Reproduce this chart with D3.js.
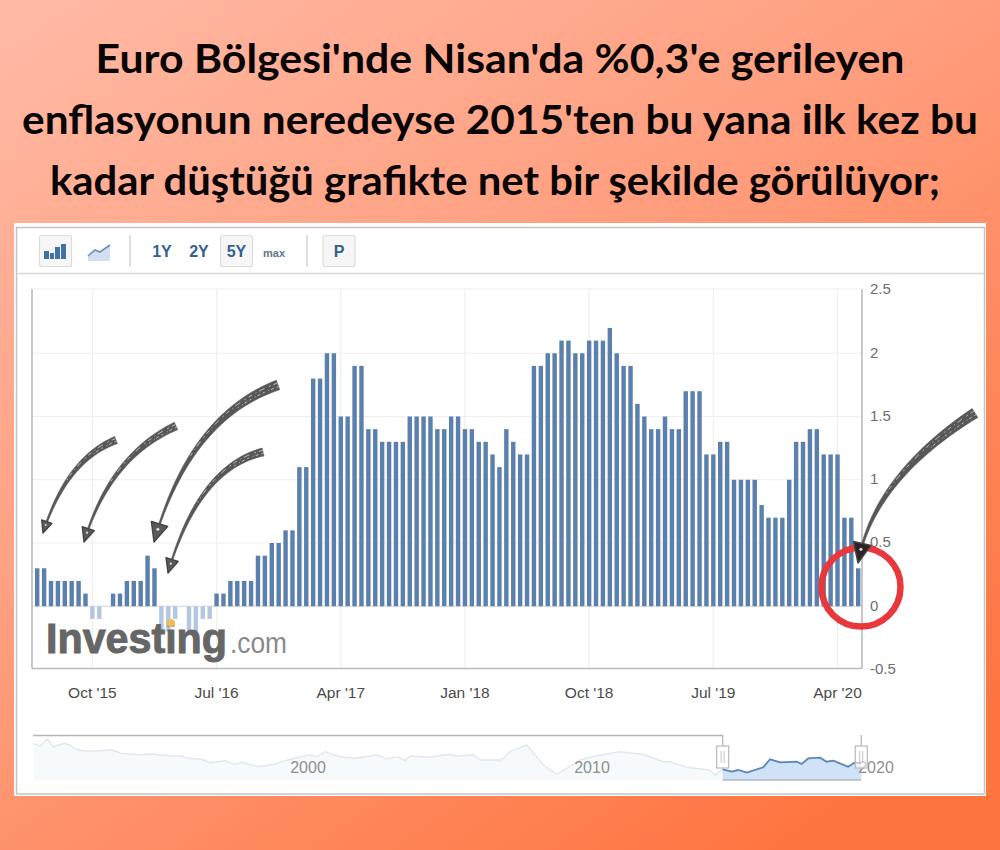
<!DOCTYPE html>
<html>
<head>
<meta charset="utf-8">
<script src="https://cdnjs.cloudflare.com/ajax/libs/d3/7.8.5/d3.min.js"></script>
<style>
html, body { margin: 0; padding: 0; background: #ff8a60; }
svg { display: block; }
</style>
</head>
<body>
<svg id="chart" width="1000" height="850"></svg>
<script>
var titleLines = [
    "Euro Bölgesi'nde Nisan'da %0,3'e gerileyen",
    "enflasyonun neredeyse 2015'ten bu yana ilk kez bu",
    "kadar düştüğü grafikte net bir şekilde görülüyor;"
];

// two releases per month (flash + final), oldest first
var barValues = [
    0.3, 0.3, 0.2, 0.2, 0.2, 0.2, 0.2, 0.1, -0.1, -0.1,
    0, 0.1, 0.1, 0.2, 0.2, 0.2, 0.4, 0.3, -0.2, -0.2,
    -0.1, 0, -0.2, -0.2, -0.1, -0.1, 0.1, 0.1, 0.2, 0.2,
    0.2, 0.2, 0.4, 0.4, 0.5, 0.5, 0.6, 0.6, 1.1, 1.1,
    1.8, 1.8, 2, 2, 1.5, 1.5, 1.9, 1.9, 1.4, 1.4,
    1.3, 1.3, 1.3, 1.3, 1.5, 1.5, 1.5, 1.5, 1.4, 1.4,
    1.5, 1.5, 1.4, 1.4, 1.3, 1.3, 1.2, 1.1, 1.4, 1.3,
    1.2, 1.2, 1.9, 1.9, 2, 2, 2.1, 2.1, 2, 2,
    2.1, 2.1, 2.1, 2.2, 2, 1.9, 1.9, 1.6, 1.5, 1.4,
    1.4, 1.5, 1.4, 1.4, 1.7, 1.7, 1.7, 1.2, 1.2, 1.3,
    1.3, 1, 1, 1, 1, 0.8, 0.7, 0.7, 0.7, 1,
    1.3, 1.3, 1.4, 1.4, 1.2, 1.2, 1.2, 0.7, 0.7, 0.3
];

var xTickIndex = [8, 26, 44, 62, 80, 98, 116];
var xTickLabels = ["Oct '15", "Jul '16", "Apr '17", "Jan '18", "Oct '18", "Jul '19", "Apr '20"];
var yTickValues = [-0.5, 0, 0.5, 1, 1.5, 2, 2.5];

var navYears = [
    1990.33, 1990.56, 1990.83, 1991.03, 1991.21, 1991.44, 1991.62, 1991.8, 1992.15, 1992.62,
    1993.09, 1993.44, 1994.02, 1994.5, 1995.08, 1995.55, 1995.79, 1996.26, 1996.55, 1997.08,
    1997.43, 1997.67, 1998.25, 1998.84, 1999.19, 1999.54, 2000.01, 2000.31, 2000.6, 2000.89,
    2001.24, 2001.65, 2002.42, 2002.77, 2003.12, 2003.42, 2003.59, 2004.3, 2004.94, 2005.24,
    2005.82, 2006.06, 2006.82, 2007.11, 2007.7, 2008.05, 2008.29, 2008.76, 2009.11, 2009.58,
    2010.17, 2010.99, 2011.81, 2012.51, 2012.75, 2013.33, 2014.15, 2014.33, 2014.6, 2014.92,
    2015.15, 2015.45, 2016.03, 2016.27, 2016.62, 2017.21, 2017.38, 2017.62, 2018.03, 2018.26,
    2018.5, 2019.02, 2019.26, 2019.48
];
var navValues = [
    4.47, 4.03, 5.16, 3.92, 4.19, 4.47, 4.19, 3.5, 3.23, 3.27,
    3.39, 2.85, 2.63, 2.74, 2.47, 2.42, 2.05, 1.89, 1.34, 1.66,
    1.08, 1.4, 0.69, 1.13, 1.66, 2.05, 2.58, 2.31, 3.11, 2.58,
    2.21, 2.05, 2.58, 1.94, 2.31, 1.66, 2.42, 2.21, 2.69, 2.42,
    2.58, 1.77, 1.77, 3.11, 4.19, 2.31, 0.97, -0.53, 0.44, 1.77,
    2.47, 3.11, 2.69, 1.5, 1.5, 0.6, 0.16, -0.65, 0.27, -0.11,
    0.16, -0.27, 0.6, 1.89, 1.4, 1.5, 1.13, 2.05, 2.15, 1.5,
    1.66, 0.69, 1.4, 1.24
];
var navTickYears = [2000, 2010, 2020];
var navSelectedFrom = 2014.6;

var armFont = "'Liberation Sans', Arial, sans-serif";
var svg = d3.select("#chart");
var defs = svg.append("defs");

// page background
var bg = defs.append("linearGradient").attr("id", "bg")
    .attr("x1", "0%").attr("y1", "0%").attr("x2", "78%").attr("y2", "100%");
bg.append("stop").attr("offset", "0%").attr("stop-color", "#ffbaa5");
bg.append("stop").attr("offset", "45%").attr("stop-color", "#ff9f80");
bg.append("stop").attr("offset", "100%").attr("stop-color", "#ff7540");
svg.append("rect").attr("width", 1000).attr("height", 850).attr("fill", "url(#bg)");

var titleWidths = [809, 956, 890];
svg.selectAll(".title").data(titleLines).enter().append("text")
    .attr("class", "title")
    .attr("x", function (d, i) { return i == 2 ? 495 : 500; })
    .attr("y", function (d, i) { return 73 + i * 61; })
    .attr("text-anchor", "middle")
    .attr("font-family", "Lato, sans-serif")
    .attr("font-weight", 700)
    .attr("font-size", 40)
    .attr("textLength", function (d, i) { return titleWidths[i]; })
    .attr("lengthAdjust", "spacingAndGlyphs")
    .attr("fill", "#0a0505")
    .text(function (d) { return d; });

// white card
svg.append("rect").attr("x", 14).attr("y", 223).attr("width", 972).attr("height", 573).attr("fill", "#fff");
svg.append("rect").attr("x", 16.5).attr("y", 227.5).attr("width", 968).attr("height", 566.5)
    .attr("fill", "none").attr("stroke", "#c4c4c4").attr("stroke-width", 1.5);

// toolbar
var bar = svg.append("g");
bar.append("line").attr("x1", 17).attr("x2", 984).attr("y1", 273.5).attr("y2", 273.5)
    .attr("stroke", "#d8d8d8").attr("stroke-width", 1.5);

function toolButton(x, w) {
    bar.append("rect").attr("x", x).attr("y", 235.5).attr("width", w).attr("height", 31).attr("rx", 2)
        .attr("fill", "#f6f6f6").attr("stroke", "#dcdcdc").attr("stroke-width", 1.2);
}
toolButton(39.5, 32);
toolButton(220.5, 32);
toolButton(323, 32);

[130, 307].forEach(function (x) {
    bar.append("line").attr("x1", x).attr("x2", x).attr("y1", 235).attr("y2", 267)
        .attr("stroke", "#d5d5d5").attr("stroke-width", 1.5);
});

[[44, 5, 8], [50, 4, 6], [55, 5, 12], [61, 5, 15]].forEach(function (b) {
    bar.append("rect").attr("x", b[0]).attr("y", 259 - b[2]).attr("width", b[1]).attr("height", b[2])
        .attr("fill", "#3f72a6");
});
bar.append("path").attr("d", "M88,256 L95,250 L100,252 L110,245 L110,261 L88,261 Z").attr("fill", "#d3def0");
bar.append("path").attr("d", "M88,256 L95,250 L100,252 L110,245").attr("fill", "none")
    .attr("stroke", "#6f8fb5").attr("stroke-width", 1.6);

[["1Y", 162, 16], ["2Y", 199, 16], ["5Y", 236.5, 16], ["max", 274, 11], ["P", 339, 16]].forEach(function (t) {
    bar.append("text").attr("x", t[1]).attr("y", 257).attr("text-anchor", "middle")
        .attr("font-family", armFont).attr("font-weight", 700).attr("font-size", t[2])
        .attr("fill", t[0] == "max" ? "#5f7590" : "#33618f").text(t[0]);
});

// main plot
var plotLeft = 32, plotRight = 862, plotTop = 289, plotBottom = 668.5;
var x = d3.scaleBand().domain(d3.range(barValues.length)).range([32.5, 862.9]).padding(0.36);
var y = d3.scaleLinear().domain([-0.5, 2.5]).range([669.5, 290]);

var grid = svg.append("g").attr("stroke", "#efefef").attr("stroke-width", 1.2);
grid.selectAll(".gy").data(yTickValues.slice(1, 6)).enter().append("line")
    .attr("class", "gy")
    .attr("x1", plotLeft).attr("x2", plotRight)
    .attr("y1", function (d) { return y(d); }).attr("y2", function (d) { return y(d); });
grid.selectAll(".gx").data(xTickIndex).enter().append("line")
    .attr("class", "gx")
    .attr("y1", plotTop).attr("y2", plotBottom)
    .attr("x1", function (d) { return x(d) + x.bandwidth() / 2; })
    .attr("x2", function (d) { return x(d) + x.bandwidth() / 2; });

svg.append("line").attr("x1", plotLeft).attr("x2", plotRight).attr("y1", y(0)).attr("y2", y(0))
    .attr("stroke", "#d9dee6").attr("stroke-width", 1.2);

svg.selectAll(".bar").data(barValues).enter().append("rect")
    .attr("class", "bar")
    .attr("x", function (d, i) { return x(i); })
    .attr("width", x.bandwidth())
    .attr("y", function (d) { return y(Math.max(d, 0)); })
    .attr("height", function (d) { return Math.abs(y(d) - y(0)); })
    .attr("fill", function (d) { return d < 0 ? "#b3c7e0" : "#5b80ae"; });

// logo sits on top of the negative bars
var logo = svg.append("g");
logo.append("text").attr("x", 46).attr("y", 652.5)
    .attr("font-family", armFont).attr("font-weight", 700).attr("font-size", 43)
    .attr("textLength", 181).attr("lengthAdjust", "spacingAndGlyphs")
    .attr("fill", "#666").attr("stroke", "#666").attr("stroke-width", 1).text("Investing");
logo.append("text").attr("x", 230).attr("y", 652.5)
    .attr("font-family", armFont).attr("font-size", 30)
    .attr("textLength", 57).attr("lengthAdjust", "spacingAndGlyphs")
    .attr("fill", "#8a8a8a").text(".com");
logo.append("circle").attr("cx", 171).attr("cy", 623).attr("r", 4).attr("fill", "#f2bb55");

// axes
var yAxis = d3.axisRight(y).tickValues(yTickValues).tickSize(0).tickPadding(8)
    .tickFormat(function (d) { return String(d); });
var yG = svg.append("g").attr("transform", "translate(" + plotRight + ",0)").call(yAxis);
yG.select(".domain").attr("d", "M0," + plotTop + "V" + plotBottom).attr("stroke", "#aaa").attr("stroke-width", 1.3);
yG.selectAll("text").attr("font-family", armFont).attr("font-size", 15).attr("fill", "#6e6e6e")
    .attr("dy", "0.25em");

var xAxis = d3.axisBottom(x).tickValues(xTickIndex).tickSize(0).tickPadding(18)
    .tickFormat(function (d) { return xTickLabels[xTickIndex.indexOf(d)]; });
var xG = svg.append("g").attr("transform", "translate(0," + plotBottom + ")").call(xAxis);
xG.select(".domain").remove();
xG.selectAll("text").attr("font-family", armFont).attr("font-size", 15.5).attr("fill", "#4a4a4a");

svg.append("line").attr("x1", plotLeft).attr("x2", plotRight).attr("y1", plotBottom).attr("y2", plotBottom)
    .attr("stroke", "#bbb").attr("stroke-width", 1.3);
svg.append("line").attr("x1", plotLeft).attr("x2", plotLeft).attr("y1", plotTop).attr("y2", plotBottom)
    .attr("stroke", "#aaa").attr("stroke-width", 1.3);
svg.append("line").attr("x1", plotLeft).attr("x2", plotRight).attr("y1", plotTop).attr("y2", plotTop)
    .attr("stroke", "#efefef").attr("stroke-width", 1.2);

// navigator
var navX = d3.scaleLinear().domain([2000, 2020]).range([308, 876]);
var navY = d3.scaleLinear().domain([0, 4]).range([771, 746.2]);
var navBase = 780;
var navPts = navYears.map(function (yr, i) { return [yr, navValues[i]]; });
var navSel = navPts.filter(function (d) { return d[0] >= navSelectedFrom; });
var navArea = d3.area().x(function (d) { return navX(d[0]); }).y0(navBase).y1(function (d) { return navY(d[1]); });
var navLine = d3.line().x(function (d) { return navX(d[0]); }).y(function (d) { return navY(d[1]); });
var selLeft = navX(navSelectedFrom), selRight = navX(navYears[navYears.length - 1]);

svg.append("path").datum(navPts).attr("d", navArea).attr("fill", "#f7fafd");
svg.append("path").datum(navPts).attr("d", navLine).attr("fill", "none")
    .attr("stroke", "#e2e7ee").attr("stroke-width", 1.4);
svg.append("path").datum(navSel).attr("d", navArea).attr("fill", "#cfe2f8");
svg.append("path").datum(navSel).attr("d", navLine).attr("fill", "none")
    .attr("stroke", "#5b86b8").attr("stroke-width", 1.8);

svg.selectAll(".navtick").data(navTickYears).enter().append("text")
    .attr("class", "navtick")
    .attr("x", function (d) { return navX(d); })
    .attr("y", 773)
    .attr("text-anchor", "middle")
    .attr("font-family", armFont).attr("font-size", 16)
    .attr("fill", "#8f8f8f")
    .text(function (d) { return d; });

svg.append("path").attr("d", "M33," + 735.5 + " H" + selLeft + " V746").attr("fill", "none")
    .attr("stroke", "#b5b5b5").attr("stroke-width", 1.3);
svg.append("line").attr("x1", selLeft).attr("x2", selRight).attr("y1", navBase).attr("y2", navBase)
    .attr("stroke", "#b0b8c2").attr("stroke-width", 1.5);
svg.append("line").attr("x1", selRight).attr("x2", selRight).attr("y1", 735).attr("y2", 746)
    .attr("stroke", "#b5b5b5").attr("stroke-width", 1.3);

[selLeft, selRight].forEach(function (cx) {
    svg.append("rect").attr("x", cx - 6).attr("y", 746).attr("width", 12).attr("height", 22)
        .attr("fill", "#fff").attr("fill-opacity", cx == selRight ? 0.55 : 1)
        .attr("stroke", "#b9b9b9").attr("stroke-width", 1.2);
    [-1.5, 1.5].forEach(function (dx) {
        svg.append("line").attr("x1", cx + dx).attr("x2", cx + dx).attr("y1", 751).attr("y2", 763)
            .attr("stroke", "#c4c4c4");
    });
});

// red circle around the last bar
svg.append("circle").attr("cx", 861).attr("cy", 587).attr("r", 39.5)
    .attr("fill", "none").attr("stroke", "#e8383c").attr("stroke-width", 6.5);

// hand drawn arrows: tail, a point on the curve, tip, tail width, head size
function drawArrow(a) {
    var p0 = a.tail, m = a.mid, p2 = a.tip;
    var c = [2 * m[0] - (p0[0] + p2[0]) / 2, 2 * m[1] - (p0[1] + p2[1]) / 2];
    var n = 30, upper = [], lower = [], centre = [], edgeA = [], edgeB = [];
    var stopAt = 1 - a.head * 0.6 / Math.hypot(p2[0] - p0[0], p2[1] - p0[1]);
    for (var i = 0; i <= n; i++) {
        var t = i / n * stopAt, u = 1 - t;
        var px = u * u * p0[0] + 2 * u * t * c[0] + t * t * p2[0];
        var py = u * u * p0[1] + 2 * u * t * c[1] + t * t * p2[1];
        var dx = 2 * u * (c[0] - p0[0]) + 2 * t * (p2[0] - c[0]);
        var dy = 2 * u * (c[1] - p0[1]) + 2 * t * (p2[1] - c[1]);
        var len = Math.hypot(dx, dy);
        var w = (a.width * Math.pow(1 - i / n, 1.1) + 1.6) / 2;
        upper.push([px - dy / len * w, py + dx / len * w]);
        lower.push([px + dy / len * w, py - dx / len * w]);
        centre.push([px, py]);
        edgeA.push([px - dy / len * w * 0.4, py + dx / len * w * 0.4]);
        edgeB.push([px + dy / len * w * 0.35, py - dx / len * w * 0.35]);
    }
    var line = d3.line();
    svg.append("path").attr("d", line(upper.concat(lower.reverse())) + "Z")
        .attr("fill", "#575757").attr("stroke", "#575757").attr("stroke-width", 0.6);
    svg.append("path").attr("d", line(edgeA.slice(0, 20))).attr("fill", "none")
        .attr("stroke", "#fff").attr("stroke-opacity", 0.6).attr("stroke-width", 1)
        .attr("stroke-dasharray", "4 3 2 5 6 3 1 4");
    svg.append("path").attr("d", line(edgeB.slice(0, 9))).attr("fill", "none")
        .attr("stroke", "#fff").attr("stroke-opacity", 0.6).attr("stroke-width", 1)
        .attr("stroke-dasharray", "2 3 3 2 1 4");

    // head
    var last = centre[n], ang = Math.atan2(p2[1] - last[1], p2[0] - last[0]);
    var perp = ang + Math.PI / 2, hw = a.head * 0.45;
    var baseX = p2[0] - Math.cos(ang) * a.head, baseY = p2[1] - Math.sin(ang) * a.head;
    var head = [p2,
        [baseX + Math.cos(perp) * hw, baseY + Math.sin(perp) * hw],
        [baseX - Math.cos(perp) * hw, baseY - Math.sin(perp) * hw]];
    svg.append("path").attr("d", line(head) + "Z")
        .attr("fill", a.dark ? "#2e2326" : "#5a5a5a").attr("stroke", "#444")
        .attr("stroke-width", 1.4).attr("stroke-linejoin", "round");
    svg.append("circle")
        .attr("cx", baseX + Math.cos(ang) * a.head * 0.3).attr("cy", baseY + Math.sin(ang) * a.head * 0.3)
        .attr("r", a.head * 0.08).attr("fill", "#fff").attr("fill-opacity", 0.8);
}

[
    { tail: [116, 440], mid: [73, 473], tip: [43, 533], width: 6, head: 12 },
    { tail: [176, 426], mid: [120, 470], tip: [84, 542], width: 6.5, head: 14 },
    { tail: [278, 385], mid: [203, 440], tip: [154, 542], width: 8.5, head: 19 },
    { tail: [263, 452], mid: [207, 490], tip: [168, 573], width: 6.5, head: 14 },
    { tail: [975, 413], mid: [895, 483], tip: [858, 563], width: 9, head: 20, dark: true }
].forEach(drawArrow);
</script>
</body>
</html>
